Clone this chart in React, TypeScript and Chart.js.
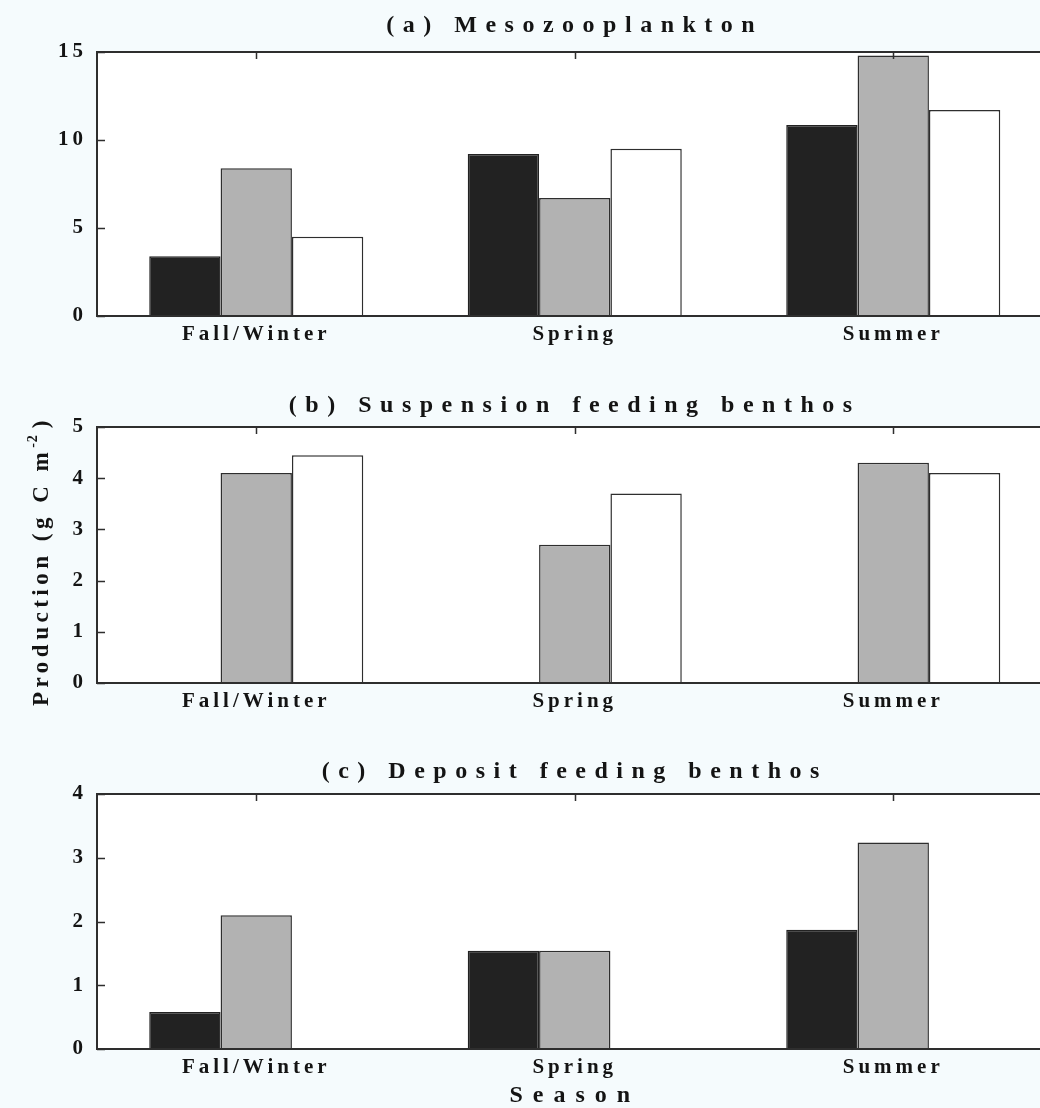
import React, { useEffect, useRef } from 'react';
import { Chart, registerables } from 'chart.js';

Chart.register(...registerables);

// ---- data ----
const seasons = ['Fall/Winter', 'Spring', 'Summer'];

const mesoBlack = [3.4, 9.2, 10.85];
const mesoGray = [8.4, 6.7, 14.8];
const mesoWhite = [4.5, 9.5, 11.7];

const suspBlack = [null, null, null];
const suspGray = [4.1, 2.7, 4.3];
const suspWhite = [4.45, 3.7, 4.1];

const depBlack = [0.58, 1.54, 1.87];
const depGray = [2.1, 1.54, 3.24];
const depWhite = [null, null, null];

const panelTitles = ['(a) Mesozooplankton', '(b) Suspension feeding benthos', '(c) Deposit feeding benthos'];
const yMaxes = [15, 5, 4];
const ySteps = [5, 1, 1];
const yAxisTitle = 'Production (g C m';
const yAxisTitleSup = '-2';
const xAxisTitle = 'Season';

const FONT = "'Liberation Serif', 'Times New Roman', serif";
const TEXT = '#141414';
const LINE = '#2e2e2e';

type Panel = {
  title: string;
  top: number;
  height: number;
  plotTop: number;
  plotBottom: number;
  max: number;
  step: number;
  black: (number | null)[];
  gray: (number | null)[];
  white: (number | null)[];
  titleBaseline: number;
  yTitle: boolean;
  xTitle: boolean;
};

const panels: Panel[] = [
  { title: panelTitles[0], top: 0, height: 350, plotTop: 52, plotBottom: 316, max: yMaxes[0], step: ySteps[0], black: mesoBlack, gray: mesoGray, white: mesoWhite, titleBaseline: 32, yTitle: false, xTitle: false },
  { title: panelTitles[1], top: 350, height: 380, plotTop: 77, plotBottom: 333, max: yMaxes[1], step: ySteps[1], black: suspBlack, gray: suspGray, white: suspWhite, titleBaseline: 62, yTitle: true, xTitle: false },
  { title: panelTitles[2], top: 730, height: 378, plotTop: 64, plotBottom: 319, max: yMaxes[2], step: ySteps[2], black: depBlack, gray: depGray, white: depWhite, titleBaseline: 48, yTitle: false, xTitle: true },
];

const CANVAS_W = 1060;

function makeDecor(p: Panel) {
  return {
    id: 'panelDecor',
    beforeDraw(chart: any) {
      const { ctx, chartArea } = chart;
      ctx.save();
      ctx.fillStyle = '#ffffff';
      ctx.fillRect(chartArea.left, chartArea.top, chartArea.right - chartArea.left, chartArea.bottom - chartArea.top);
      ctx.restore();
      (ctx as any).letterSpacing = '4px';
    },
    afterDraw(chart: any) {
      const { ctx, chartArea } = chart;
      const xs = chart.scales.x;
      const ys = chart.scales.y;
      ctx.save();
      (ctx as any).letterSpacing = '0px';
      // frame
      ctx.strokeStyle = LINE;
      ctx.lineWidth = 2;
      ctx.strokeRect(chartArea.left, chartArea.top, chartArea.right - chartArea.left, chartArea.bottom - chartArea.top);
      // inward ticks on left axis
      ctx.lineWidth = 1.5;
      ctx.beginPath();
      ys.ticks.forEach((t: any) => {
        const y = Math.round(ys.getPixelForValue(t.value)) + 0.5;
        ctx.moveTo(chartArea.left, y);
        ctx.lineTo(chartArea.left + 8, y);
      });
      // inward ticks on top axis at category centers
      seasons.forEach((_, i) => {
        const x = Math.round(xs.getPixelForValue(i)) + 0.5;
        ctx.moveTo(x, chartArea.top);
        ctx.lineTo(x, chartArea.top + 7);
      });
      ctx.stroke();

      // panel title
      const cx = (chartArea.left + chartArea.right) / 2;
      ctx.fillStyle = TEXT;
      ctx.font = `bold 24px ${FONT}`;
      (ctx as any).letterSpacing = '8.5px';
      ctx.textAlign = 'center';
      ctx.textBaseline = 'alphabetic';
      ctx.fillText(p.title, cx, p.titleBaseline);

      if (p.xTitle) {
        (ctx as any).letterSpacing = '10px';
        ctx.fillText(xAxisTitle, cx, 372);
      }

      if (p.yTitle) {
        const midY = (chartArea.top + chartArea.bottom) / 2 + 6;
        ctx.translate(48, midY);
        ctx.rotate(-Math.PI / 2);
        ctx.textAlign = 'left';
        ctx.font = `bold 23px ${FONT}`;
        (ctx as any).letterSpacing = '4.5px';
        const w1 = ctx.measureText(yAxisTitle).width;
        ctx.font = `bold 14px ${FONT}`;
        (ctx as any).letterSpacing = '1px';
        const w2 = ctx.measureText(yAxisTitleSup).width;
        ctx.font = `bold 23px ${FONT}`;
        (ctx as any).letterSpacing = '4.5px';
        const w3 = ctx.measureText(')').width;
        const total = w1 + w2 + 6 + w3;
        let x0 = -total / 2;
        ctx.fillText(yAxisTitle, x0, 0);
        x0 += w1;
        ctx.font = `bold 14px ${FONT}`;
        (ctx as any).letterSpacing = '1px';
        ctx.fillText(yAxisTitleSup, x0, -11);
        x0 += w2 + 6;
        ctx.font = `bold 23px ${FONT}`;
        (ctx as any).letterSpacing = '4.5px';
        ctx.fillText(')', x0, 0);
      }
      ctx.restore();
    },
  };
}

function PanelChart({ p }: { p: Panel }) {
  const ref = useRef<HTMLCanvasElement | null>(null);
  useEffect(() => {
    if (!ref.current) return;
    const tickFont = { family: FONT, size: 21, weight: 'bold' as const };
    const chart = new Chart(ref.current, {
      type: 'bar',
      data: {
        labels: seasons,
        datasets: [
          { label: 'black', data: p.black as any, backgroundColor: '#222222', borderColor: '#222222', borderWidth: 1.5 },
          { label: 'gray', data: p.gray as any, backgroundColor: '#b2b2b2', borderColor: LINE, borderWidth: 1.5 },
          { label: 'white', data: p.white as any, backgroundColor: '#ffffff', borderColor: LINE, borderWidth: 1.5 },
        ],
      },
      options: {
        responsive: false,
        animation: false,
        events: [],
        layout: { padding: { top: p.plotTop, bottom: 0, left: 0, right: 7.5 } },
        datasets: { bar: { categoryPercentage: 0.672, barPercentage: 1 } } as any,
        plugins: {
          legend: { display: false },
          title: { display: false },
          tooltip: { enabled: false },
        },
        scales: {
          x: {
            type: 'category',
            offset: true,
            grid: { display: false, drawTicks: false },
            border: { display: false },
            ticks: { font: tickFont, color: TEXT, padding: 6, maxRotation: 0, minRotation: 0, autoSkip: false },
            afterFit: (s: any) => {
              s.height = p.height - p.plotBottom;
            },
          },
          y: {
            min: 0,
            max: p.max,
            grid: { display: false, drawTicks: false },
            border: { display: false },
            ticks: { stepSize: p.step, font: tickFont, color: TEXT, padding: 10 },
            afterFit: (s: any) => {
              s.width = 97;
            },
          },
        },
      },
      plugins: [makeDecor(p)],
    });
    return () => chart.destroy();
  }, [p]);
  return (
    <canvas
      ref={ref}
      width={CANVAS_W}
      height={p.height}
      style={{ position: 'absolute', left: 0, top: p.top, width: CANVAS_W, height: p.height, display: 'block' }}
    />
  );
}

export default function App() {
  return (
    <div
      style={{
        position: 'absolute',
        left: 0,
        top: 0,
        width: 1040,
        height: 1108,
        overflow: 'hidden',
        background: '#f5fbfd',
      }}
    >
      {panels.map((p, i) => (
        <PanelChart key={i} p={p} />
      ))}
    </div>
  );
}
